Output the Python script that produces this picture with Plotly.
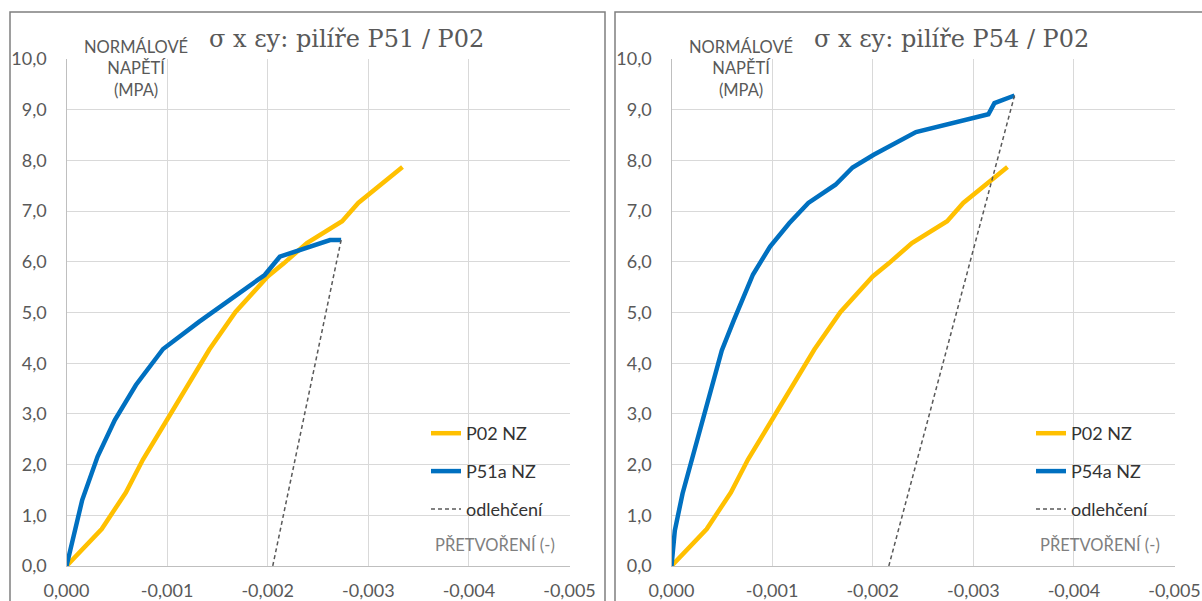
import plotly.graph_objects as go

# ---- data -------------------------------------------------------------
# reference specimen P02 (same curve in both panels)
p02_strain = [0, -0.00035, -0.00059, -0.00076, -0.00098, -0.00120, -0.00142, -0.00168,
              -0.00200, -0.00216, -0.00239, -0.00274, -0.00290, -0.00334]
p02_stress = [0, 0.73, 1.45, 2.10, 2.82, 3.54, 4.27, 5.01,
              5.71, 5.97, 6.37, 6.80, 7.16, 7.87]

# pillar P51a
p51_strain = [0, -0.000156, -0.000309, -0.00048, -0.00069, -0.00096, -0.00132,
              -0.00197, -0.00212, -0.00262, -0.00273]
p51_stress = [0, 1.30, 2.16, 2.88, 3.57, 4.28, 4.82, 5.74, 6.10, 6.43, 6.43]

# pillar P54a
p54_strain = [0, -0.000033, -0.00011, -0.00022, -0.00033, -0.00041, -0.00050, -0.00062,
              -0.00081, -0.00098, -0.00117, -0.00136, -0.00163, -0.00180, -0.00201,
              -0.00243, -0.00296, -0.00315, -0.00321, -0.00341]
p54_stress = [0, 0.70, 1.43, 2.22, 3.00, 3.58, 4.25, 4.85,
              5.75, 6.30, 6.76, 7.16, 7.52, 7.86, 8.11,
              8.56, 8.83, 8.91, 9.13, 9.28]

# unloading branches
unload51_strain = [-0.00273, -0.00205]
unload51_stress = [6.43, 0.0]
unload54_strain = [-0.00341, -0.00216]
unload54_stress = [9.28, 0.0]

# axis ticks
x_ticks = [0, -0.001, -0.002, -0.003, -0.004, -0.005]
x_tick_labels = ["0,000", "-0,001", "-0,002", "-0,003", "-0,004", "-0,005"]
y_ticks = [0, 1, 2, 3, 4, 5, 6, 7, 8, 9, 10]
y_tick_labels = ["0,0", "1,0", "2,0", "3,0", "4,0", "5,0", "6,0", "7,0", "8,0", "9,0", "10,0"]

titles = ["σ x εy: pilíře P51 / P02", "σ x εy: pilíře P54 / P02"]

# ---- styling ----------------------------------------------------------
W, H = 1202, 601
YELLOW = "#FFC000"
BLUE = "#0070C0"
DASH = "#595959"
GRID = "#D9D9D9"
TXT = "#595959"
TICK_FONT = dict(family="Lato", size=18, color=TXT)


def px(x):
    return x / W


def py(y):
    return 1 - y / H


PANEL_SHIFT = 605  # horizontal offset of the second panel in pixels
plot_left, plot_right = 66.5, 569.5
plot_top, plot_bottom = 59, 566

fig = go.Figure()

panels = [
    ("x", "y", "legend", p51_strain, p51_stress, "P51a NZ", unload51_strain, unload51_stress),
    ("x2", "y2", "legend2", p54_strain, p54_stress, "P54a NZ", unload54_strain, unload54_stress),
]

for i, (xa, ya, lg, sx, sy, name, ux, uy) in enumerate(panels):
    fig.add_trace(go.Scatter(x=p02_strain, y=p02_stress, mode="lines", name="P02 NZ",
                             line=dict(color=YELLOW, width=4.5), xaxis=xa, yaxis=ya,
                             legend=lg, legendgroup=f"a{i}"))
    fig.add_trace(go.Scatter(x=sx, y=sy, mode="lines", name=name,
                             line=dict(color=BLUE, width=4.5), xaxis=xa, yaxis=ya,
                             legend=lg, legendgroup=f"b{i}"))
    fig.add_trace(go.Scatter(x=ux, y=uy, mode="lines", name="odlehčení",
                             line=dict(color=DASH, width=1.5, dash="4px,3px"), xaxis=xa, yaxis=ya,
                             legend=lg, legendgroup=f"c{i}"))


def xaxis_cfg(shift, anchor):
    return dict(domain=[px(plot_left + shift), px(plot_right + shift)], anchor=anchor,
                range=[0, -0.005], tickvals=x_ticks, ticktext=x_tick_labels,
                showgrid=True, gridcolor=GRID, gridwidth=1.3, zeroline=False,
                showline=True, linecolor="#BFBFBF", linewidth=1.3, mirror=False,
                ticks="", tickfont=TICK_FONT, ticklabelstandoff=8,
                automargin=False, fixedrange=True)


def yaxis_cfg(anchor):
    return dict(domain=[py(plot_bottom), py(plot_top)], range=[0, 10],
                tickvals=y_ticks, ticktext=y_tick_labels, anchor=anchor,
                showgrid=True, gridcolor=GRID, gridwidth=1.3, zeroline=False,
                showline=True, linecolor="#BFBFBF", linewidth=1.3,
                ticks="", tickfont=TICK_FONT, ticklabelstandoff=15,
                automargin=False, fixedrange=True)


shapes = []
annotations = []
legend_cfg = {}
for i, shift in enumerate([0, PANEL_SHIFT]):
    # chart-area frame
    shapes.append(dict(type="rect", xref="paper", yref="paper",
                       x0=px(10 + shift), x1=px(605 + shift + (20 if i else 0)),
                       y0=py(620), y1=py(12),
                       line=dict(color="#7F7F7F", width=1.5), fillcolor="rgba(0,0,0,0)",
                       layer="above"))
    # white panel behind the legend and the x-axis caption
    shapes.append(dict(type="rect", xref="paper", yref="paper",
                       x0=px(390 + shift), x1=px(566 + shift), y0=py(521), y1=py(420),
                       line=dict(width=0), fillcolor="white", layer="between"))
    shapes.append(dict(type="rect", xref="paper", yref="paper",
                       x0=px(432 + shift), x1=px(562 + shift), y0=py(557), y1=py(533),
                       line=dict(width=0), fillcolor="white", layer="between"))
    # chart title
    annotations.append(dict(text=titles[i], xref="paper", yref="paper",
                            x=px(346 + shift), y=py(39), xanchor="center", yanchor="middle",
                            showarrow=False,
                            font=dict(family="DejaVu Serif", size=24, color=TXT)))
    # y-axis caption
    annotations.append(dict(text="NORMÁLOVÉ<br>NAPĚTÍ<br>(MPA)", xref="paper", yref="paper",
                            x=px(136 + shift), y=py(35), xanchor="center", yanchor="top",
                            align="center", showarrow=False,
                            font=dict(family="Lato", size=16.5, color=TXT)))
    # x-axis caption
    annotations.append(dict(text="PŘETVOŘENÍ (-)", xref="paper", yref="paper",
                            x=px(557 + shift), y=py(545), xanchor="right", yanchor="middle",
                            showarrow=False,
                            font=dict(family="Lato", size=16.5, color="#7F7F7F")))
    legend_cfg["legend" if i == 0 else "legend2"] = dict(
        x=px(426 + shift), y=py(415), xanchor="left", yanchor="top",
        bgcolor="rgba(0,0,0,0)", borderwidth=0, tracegroupgap=11.5,
        font=dict(family="Lato", size=18, color="#333333"))

fig.update_layout(
    width=W, height=H, margin=dict(l=0, r=0, t=0, b=0, pad=0, autoexpand=False),
    paper_bgcolor="white", plot_bgcolor="white",
    xaxis=xaxis_cfg(0, "y"), yaxis=yaxis_cfg("x"),
    xaxis2=xaxis_cfg(PANEL_SHIFT, "y2"), yaxis2=yaxis_cfg("x2"),
    shapes=shapes, annotations=annotations, showlegend=True,
    **legend_cfg,
)

fig.write_html("out.html")
